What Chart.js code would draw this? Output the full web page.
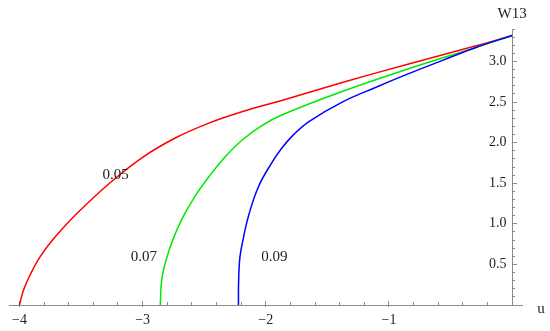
<!DOCTYPE html>
<html>
<head>
<meta charset="utf-8">
<script src="https://cdn.jsdelivr.net/npm/chart.js@4/dist/chart.umd.min.js"></script>
<style>
  html, body { margin: 0; padding: 0; background: #fff; }
  #wrap { width: 550px; height: 331px; }
</style>
</head>
<body>
<div id="wrap"><canvas id="w13Chart" width="550" height="331"></canvas></div>
<script>
// curve for 0.05
const uRed = [-4.0, -3.968, -3.914, -3.83, -3.704, -3.538, -3.269, -3.0, -2.731, -2.462, -2.194, -1.871, -1.38, -0.84, -0.30, 0];
const wRed = [0, 0.18, 0.37, 0.60, 0.85, 1.12, 1.50, 1.82, 2.06, 2.24, 2.38, 2.52, 2.74, 2.97, 3.19, 3.32];
// curve for 0.07
const uGreen = [-2.857, -2.845, -2.81, -2.758, -2.677, -2.57, -2.462, -2.328, -2.194, -2.032, -1.871, -1.38, -0.84, -0.30, 0];
const wGreen = [0, 0.31, 0.55, 0.79, 1.07, 1.35, 1.58, 1.83, 2.03, 2.21, 2.34, 2.63, 2.91, 3.17, 3.32];
// curve for 0.09
const uBlue = [-2.222, -2.221, -2.21, -2.18, -2.14, -2.059, -1.952, -1.871, -1.78, -1.65, -1.38, -1.11, -0.84, -0.57, -0.30, 0];
const wBlue = [0, 0.27, 0.59, 0.84, 1.10, 1.46, 1.75, 1.93, 2.09, 2.26, 2.50, 2.68, 2.85, 3.01, 3.17, 3.32];

const curveLabels = ["0.05", "0.07", "0.09"];
const labelU = [-3.22, -2.99, -1.93];
const labelW = [1.60, 0.59, 0.59];

const xTickVals = [-4, -3, -2, -1];
const yTickVals = [0.5, 1.0, 1.5, 2.0, 2.5, 3.0];

const FONT = "'Liberation Serif', 'Times New Roman', serif";
const AXIS = "#8c8c8c";

function pts(us, ws) {
    return us.map((u, i) => ({ x: u, y: ws[i] }));
}

function minorTicks(from, to, step) {
    const out = [];
    for (let v = from; v <= to + 1e-9; v += step) {
        out.push({ value: Math.round(v * 100) / 100 });
    }
    return out;
}

const textPlugin = {
    id: "texts",
    afterDatasetsDraw(chart) {
        const ctx = chart.ctx;
        const xs = chart.scales.x, ys = chart.scales.y;
        ctx.save();
        ctx.fillStyle = "#222";
        ctx.font = "15px " + FONT;
        ctx.textAlign = "center";
        ctx.textBaseline = "middle";
        curveLabels.forEach((t, i) => {
            ctx.fillText(t, xs.getPixelForValue(labelU[i]), ys.getPixelForValue(labelW[i]));
        });
        ctx.fillText("W13", xs.getPixelForValue(0), 14);
        ctx.fillText("u", 541, 309);
        ctx.restore();
    }
};

new Chart(document.getElementById("w13Chart"), {
    type: "scatter",
    data: {
        datasets: [
            { label: "0.05", data: pts(uRed, wRed), borderColor: "#ff0000", order: 3 },
            { label: "0.07", data: pts(uGreen, wGreen), borderColor: "#00ea00", order: 2 },
            { label: "0.09", data: pts(uBlue, wBlue), borderColor: "#0000ff", order: 1 }
        ]
    },
    options: {
        responsive: false,
        animation: false,
        showLine: true,
        layout: { padding: { left: 0, right: 28, top: 29, bottom: 26 } },
        elements: {
            point: { radius: 0 },
            line: { borderWidth: 1.5, tension: 0.4, fill: false }
        },
        plugins: { legend: { display: false }, tooltip: { enabled: false } },
        scales: {
            x: {
                type: "linear", position: { y: 0 }, min: -4.08, max: 0.08,
                afterBuildTicks: s => { s.ticks = xTickVals.map(v => ({ value: v })); },
                ticks: {
                    color: "#222", font: { family: FONT, size: 14 }, padding: 12,
                    maxRotation: 0,
                    callback: v => String(v).replace("-", "\u2212")
                },
                grid: { drawOnChartArea: false, tickLength: -5, color: AXIS },
                border: { color: AXIS, width: 1 }
            },
            // short stubs of the major ticks below the axis line
            xMajorDown: {
                type: "linear", position: { y: 0 }, min: -4.08, max: 0.08,
                afterBuildTicks: s => { s.ticks = xTickVals.map(v => ({ value: v })); },
                ticks: { display: false },
                grid: { drawOnChartArea: false, tickLength: 2, color: AXIS },
                border: { display: false }
            },
            xMinor: {
                type: "linear", position: { y: 0 }, min: -4.08, max: 0.08,
                afterBuildTicks: s => { s.ticks = minorTicks(-3.8, -0.2, 0.2); },
                ticks: { display: false },
                grid: { drawOnChartArea: false, tickLength: -3, color: AXIS },
                border: { display: false }
            },
            y: {
                type: "linear", position: { x: 0 }, min: 0, max: 3.4,
                afterBuildTicks: s => { s.ticks = yTickVals.map(v => ({ value: v })); },
                ticks: { display: false },
                grid: { drawOnChartArea: false, tickLength: -5, color: AXIS },
                border: { color: AXIS, width: 1 }
            },
            yMinor: {
                type: "linear", position: { x: 0 }, min: 0, max: 3.4,
                afterBuildTicks: s => { s.ticks = minorTicks(0.1, 3.4, 0.1); },
                ticks: { display: false },
                grid: { drawOnChartArea: false, tickLength: -3, color: AXIS },
                border: { display: false }
            },
            yLabels: {
                type: "linear", position: { x: -0.045 }, min: 0, max: 3.4,
                afterBuildTicks: s => { s.ticks = yTickVals.map(v => ({ value: v })); },
                ticks: {
                    color: "#222", font: { family: FONT, size: 14 },
                    callback: v => v.toFixed(1)
                },
                grid: { display: false },
                border: { display: false }
            }
        }
    },
    plugins: [textPlugin]
});
</script>
</body>
</html>
